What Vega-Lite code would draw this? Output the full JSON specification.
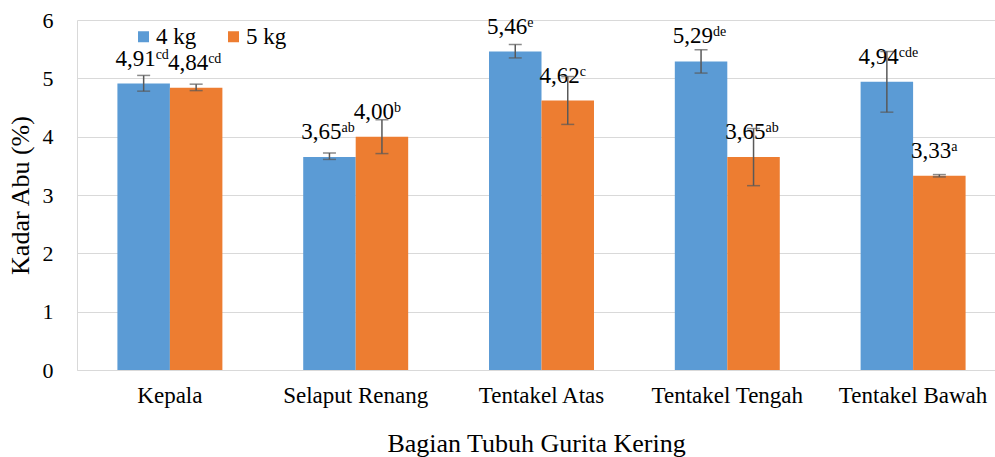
{
  "$schema": "https://vega.github.io/schema/vega-lite/v6.json",
  "width": 918,
  "height": 350,
  "autosize": {"type": "none"},
  "padding": {"left": 77, "top": 20, "right": 0, "bottom": 87},
  "background": "white",
  "config": {
    "font": "Liberation Serif, Times New Roman, Tinos, DejaVu Serif, serif",
    "view": {"stroke": null},
    "text": {"font": "Liberation Serif, Times New Roman, Tinos, DejaVu Serif, serif"},
    "axis": {"labelFont": "Liberation Serif, Times New Roman, Tinos, DejaVu Serif, serif", "titleFont": "Liberation Serif, Times New Roman, Tinos, DejaVu Serif, serif", "labelColor": "#000000", "titleColor": "#000000"},
    "legend": {"labelFont": "Liberation Serif, Times New Roman, Tinos, DejaVu Serif, serif"}
  },
  "data": {
    "values": [
      {"bagian": "Kepala", "series": "4 kg", "val": 4.91, "lo": 4.78, "hi": 5.05, "lbl": "4,91", "sup": "cd"},
      {"bagian": "Kepala", "series": "5 kg", "val": 4.84, "lo": 4.79, "hi": 4.90, "lbl": "4,84", "sup": "cd"},
      {"bagian": "Selaput Renang", "series": "4 kg", "val": 3.65, "lo": 3.61, "hi": 3.72, "lbl": "3,65", "sup": "ab"},
      {"bagian": "Selaput Renang", "series": "5 kg", "val": 4.00, "lo": 3.71, "hi": 4.29, "lbl": "4,00", "sup": "b"},
      {"bagian": "Tentakel Atas", "series": "4 kg", "val": 5.46, "lo": 5.35, "hi": 5.58, "lbl": "5,46", "sup": "e"},
      {"bagian": "Tentakel Atas", "series": "5 kg", "val": 4.62, "lo": 4.21, "hi": 5.03, "lbl": "4,62", "sup": "c"},
      {"bagian": "Tentakel Tengah", "series": "4 kg", "val": 5.29, "lo": 5.09, "hi": 5.49, "lbl": "5,29", "sup": "de"},
      {"bagian": "Tentakel Tengah", "series": "5 kg", "val": 3.65, "lo": 3.16, "hi": 4.14, "lbl": "3,65", "sup": "ab"},
      {"bagian": "Tentakel Bawah", "series": "4 kg", "val": 4.94, "lo": 4.42, "hi": 5.46, "lbl": "4,94", "sup": "cde"},
      {"bagian": "Tentakel Bawah", "series": "5 kg", "val": 3.33, "lo": 3.31, "hi": 3.35, "lbl": "3,33", "sup": "a"}
    ]
  },
  "encoding": {
    "x": {
      "field": "bagian", "type": "nominal", "sort": null,
      "scale": {"range": [0, 929], "paddingInner": 0.435, "paddingOuter": 0.2175},
      "axis": {
        "labelAngle": 0, "labelFontSize": 23, "labelPadding": 14, "ticks": false,
        "domainColor": "#D9D9D9", "domainWidth": 1,
        "title": "Bagian Tubuh Gurita Kering", "titleFontSize": 26, "titleFontWeight": "normal",
        "titleY": 81, "titleBaseline": "alphabetic", "titleX": 459, "titleAlign": "center"
      }
    },
    "xOffset": {"field": "series", "type": "nominal", "scale": {"paddingInner": 0, "paddingOuter": 0}},
    "y": {
      "field": "val", "type": "quantitative",
      "scale": {"domain": [0, 6], "nice": false},
      "axis": {
        "values": [0, 1, 2, 3, 4, 5, 6], "labelFontSize": 22, "labelPadding": 24, "ticks": false,
        "domain": true, "domainColor": "#D9D9D9", "gridColor": "#D9D9D9", "gridWidth": 1,
        "title": "Kadar Abu (%)", "titleFontSize": 26, "titleFontWeight": "normal",
        "titleX": -57, "titleY": 175, "titleAngle": -90, "titleAlign": "center", "titleBaseline": "middle"
      }
    }
  },
  "layer": [
    {
      "mark": {"type": "bar"},
      "encoding": {
        "color": {
          "field": "series", "type": "nominal",
          "scale": {"domain": ["4 kg", "5 kg"], "range": ["#5B9BD5", "#ED7D31"]},
          "legend": {
            "orient": "none", "legendX": 55, "legendY": 5, "direction": "horizontal", "title": null,
            "symbolType": "square", "symbolSize": 121, "symbolStrokeWidth": 0,
            "labelFontSize": 23, "labelColor": "#000000", "labelOffset": 1, "columnPadding": 25
          }
        }
      }
    },
    {
      "mark": {"type": "text", "align": "right", "baseline": "alphabetic", "dx": 12, "dy": -18, "fontSize": 23, "color": "#000000"},
      "encoding": {"text": {"field": "lbl"}}
    },
    {
      "mark": {"type": "text", "align": "left", "baseline": "alphabetic", "dx": 12, "dy": -25, "fontSize": 14, "color": "#000000"},
      "encoding": {"text": {"field": "sup"}}
    },
    {
      "mark": {"type": "rule", "color": "#595959", "strokeWidth": 1.5},
      "encoding": {"y": {"field": "lo", "type": "quantitative"}, "y2": {"field": "hi"}}
    },
    {
      "mark": {"type": "tick", "color": "#595959", "size": 13, "thickness": 1.5},
      "encoding": {"y": {"field": "lo", "type": "quantitative"}}
    },
    {
      "mark": {"type": "tick", "color": "#595959", "size": 13, "thickness": 1.5},
      "encoding": {"y": {"field": "hi", "type": "quantitative"}}
    }
  ]
}
